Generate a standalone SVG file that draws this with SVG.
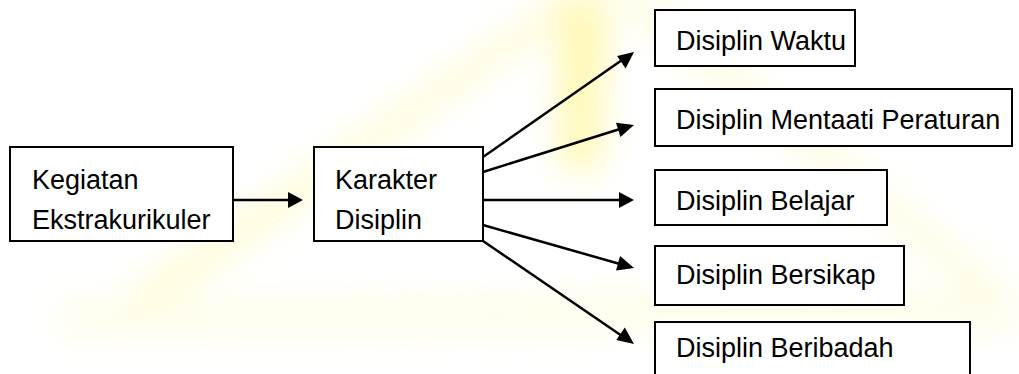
<svg xmlns="http://www.w3.org/2000/svg" width="1019" height="374" viewBox="0 0 1019 374">
  <style>
    .box { fill: #ffffff; stroke: #000000; stroke-width: 2; }
    .lbl { font-family: "Liberation Sans", Arial, sans-serif; font-size: 27px; fill: #000000; }
    .conn { stroke: #000000; stroke-width: 2.5; fill: none; }
    .head { fill: #000000; }
  </style>
  <defs>
    <filter id="blur" x="-20%" y="-20%" width="140%" height="140%">
      <feGaussianBlur stdDeviation="16"/>
    </filter>
  </defs>
  <rect width="1019" height="374" fill="#ffffff"/>
  <g id="watermark" filter="url(#blur)" opacity="0.45">
    <path d="M570,-10 L600,-10 L140,320 L90,320 Z" fill="#fff59a"/>
    <path d="M600,-10 L640,-10 L1019,300 L1019,330 Z" fill="#fff8b8"/>
    <path d="M60,300 L1019,290 L1019,330 L60,335 Z" fill="#fffbd0"/>
    <path d="M555,0 L610,0 L600,170 L560,170 Z" fill="#fff060"/>
  </g>
  <g id="connectors">
    <line class="conn" x1="233" y1="200" x2="290" y2="200"/>
    <path class="head" d="M288,192 L303,200 L288,208 z"/>
    <line class="conn" x1="483" y1="157" x2="622" y2="60"/>
    <path class="head" d="M634,52 L625.6,68.4 L617.1,56.1 z"/>
    <line class="conn" x1="483" y1="172" x2="620" y2="129"/>
    <path class="head" d="M634,125 L620.4,137.1 L616.0,122.8 z"/>
    <line class="conn" x1="483" y1="200" x2="620" y2="200"/>
    <path class="head" d="M634,200 L619,192 L619,208 z"/>
    <line class="conn" x1="483" y1="225" x2="620" y2="264"/>
    <path class="head" d="M634,268 L616.0,270.4 L620.1,256.0 z"/>
    <line class="conn" x1="483" y1="241" x2="622" y2="336"/>
    <path class="head" d="M634,344 L616.3,340.0 L624.8,327.6 z"/>
  </g>
  <g id="kegiatan">
    <rect class="box" x="10" y="147" width="223" height="94"/>
    <text class="lbl" x="32" y="189">Kegiatan</text>
    <text class="lbl" x="32" y="229">Ekstrakurikuler</text>
  </g>
  <g id="karakter">
    <rect class="box" x="314" y="147" width="169" height="94"/>
    <text class="lbl" x="335" y="189">Karakter</text>
    <text class="lbl" x="335" y="229">Disiplin</text>
  </g>
  <g id="waktu">
    <rect class="box" x="655" y="10" width="200" height="56"/>
    <text class="lbl" x="676" y="50">Disiplin Waktu</text>
  </g>
  <g id="mentaati">
    <rect class="box" x="655" y="89" width="357" height="57"/>
    <text class="lbl" x="676" y="129">Disiplin Mentaati Peraturan</text>
  </g>
  <g id="belajar">
    <rect class="box" x="655" y="170" width="232" height="55"/>
    <text class="lbl" x="676" y="210">Disiplin Belajar</text>
  </g>
  <g id="bersikap">
    <rect class="box" x="655" y="246" width="249" height="59"/>
    <text class="lbl" x="676" y="284">Disiplin Bersikap</text>
  </g>
  <g id="beribadah">
    <rect class="box" x="655" y="322" width="315" height="60"/>
    <text class="lbl" x="676" y="357">Disiplin Beribadah</text>
  </g>
</svg>
